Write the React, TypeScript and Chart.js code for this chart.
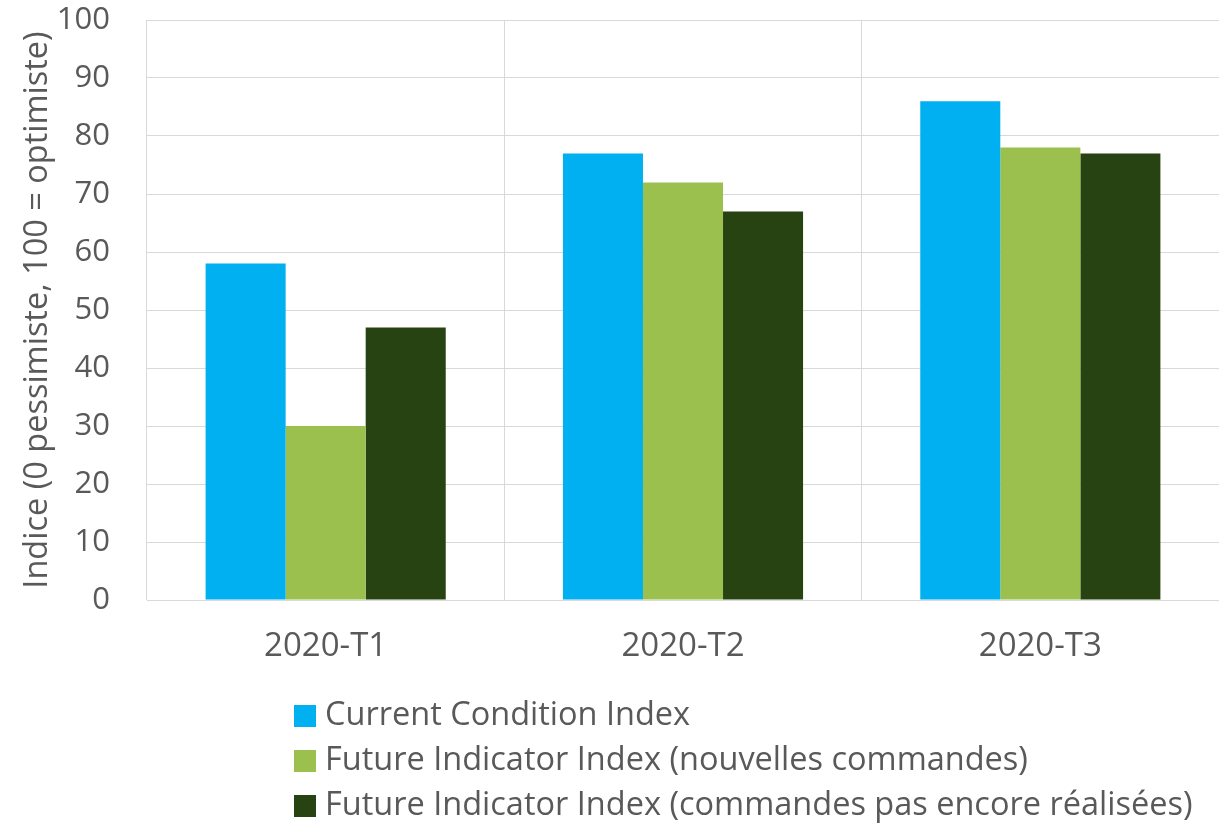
import React, { useEffect, useRef } from "react";
import { Chart, registerables } from "chart.js";

Chart.register(...registerables);

const categories = ["2020-T1", "2020-T2", "2020-T3"];
const seriesNames = [
  "Current Condition Index",
  "Future Indicator Index (nouvelles commandes)",
  "Future Indicator Index (commandes pas encore réalisées)",
];
const currentCondition = [58, 77, 86];
const futureNew = [30, 72, 78];
const futurePending = [47, 67, 77];
const seriesColors = ["#00B0F0", "#9BC04E", "#264311"];
const yTicks = [0, 10, 20, 30, 40, 50, 60, 70, 80, 90, 100];
const yTitle = "Indice (0 pessimiste, 100 = optimiste)";

const FONT = "'Open Sans', sans-serif";
const TEXT = "#595959";
const GRID = "#D9D9D9";

const legendPlugin = {
  id: "columnLegend",
  afterDraw(chart: any) {
    const ctx = chart.ctx;
    ctx.save();
    ctx.font = `32.5px ${FONT}`;
    ctx.textBaseline = "middle";
    ctx.textAlign = "left";
    chart.data.datasets.forEach((ds: any, i: number) => {
      const cy = 716 + i * 45;
      ctx.fillStyle = ds.backgroundColor;
      ctx.fillRect(294, cy - 11, 22, 22);
      ctx.fillStyle = TEXT;
      ctx.fillText(ds.label, 325, cy);
    });
    ctx.restore();
  },
};

export default function App() {
  const ref = useRef<HTMLCanvasElement>(null);
  useEffect(() => {
    document.body.style.margin = "0";
    const values = [currentCondition, futureNew, futurePending];
    const chart = new Chart(ref.current!, {
      type: "bar",
      data: {
        labels: categories,
        datasets: seriesNames.map((name, i) => ({
          label: name,
          data: values[i],
          backgroundColor: seriesColors[i],
          borderWidth: 0,
          barPercentage: 1,
          categoryPercentage: 0.672,
        })),
      },
      options: {
        animation: false,
        responsive: false,
        devicePixelRatio: 1,
        layout: { padding: { top: 20, bottom: 144, left: 0, right: 0 } },
        plugins: { legend: { display: false }, tooltip: { enabled: false } },
        scales: {
          x: {
            grid: { color: GRID, drawTicks: false, offset: true, lineWidth: 1 },
            border: { color: GRID },
            ticks: { color: TEXT, font: { family: FONT, size: 33 }, padding: 27 },
            afterFit: (s: any) => {
              s.height = 80;
              s.paddingLeft = 0;
              s.paddingRight = 0;
            },
          },
          y: {
            min: 0,
            max: 100,
            afterBuildTicks: (s: any) => {
              s.ticks = yTicks.map((v) => ({ value: v }));
            },
            grid: { color: GRID, drawTicks: false, lineWidth: 1 },
            border: { display: false },
            ticks: { color: TEXT, font: { family: FONT, size: 31 }, padding: 37 },
            title: {
              display: true,
              text: yTitle,
              color: TEXT,
              font: { family: FONT, size: 32.5 },
              padding: { top: 18, bottom: 0 },
            },
            afterFit: (s: any) => {
              s.width = 147;
              s.paddingTop = 0;
              s.paddingBottom = 0;
            },
          },
        },
      },
      plugins: [legendPlugin],
    });
    return () => chart.destroy();
  }, []);
  return <canvas ref={ref} width={1219} height={824} style={{ display: "block" }} />;
}
